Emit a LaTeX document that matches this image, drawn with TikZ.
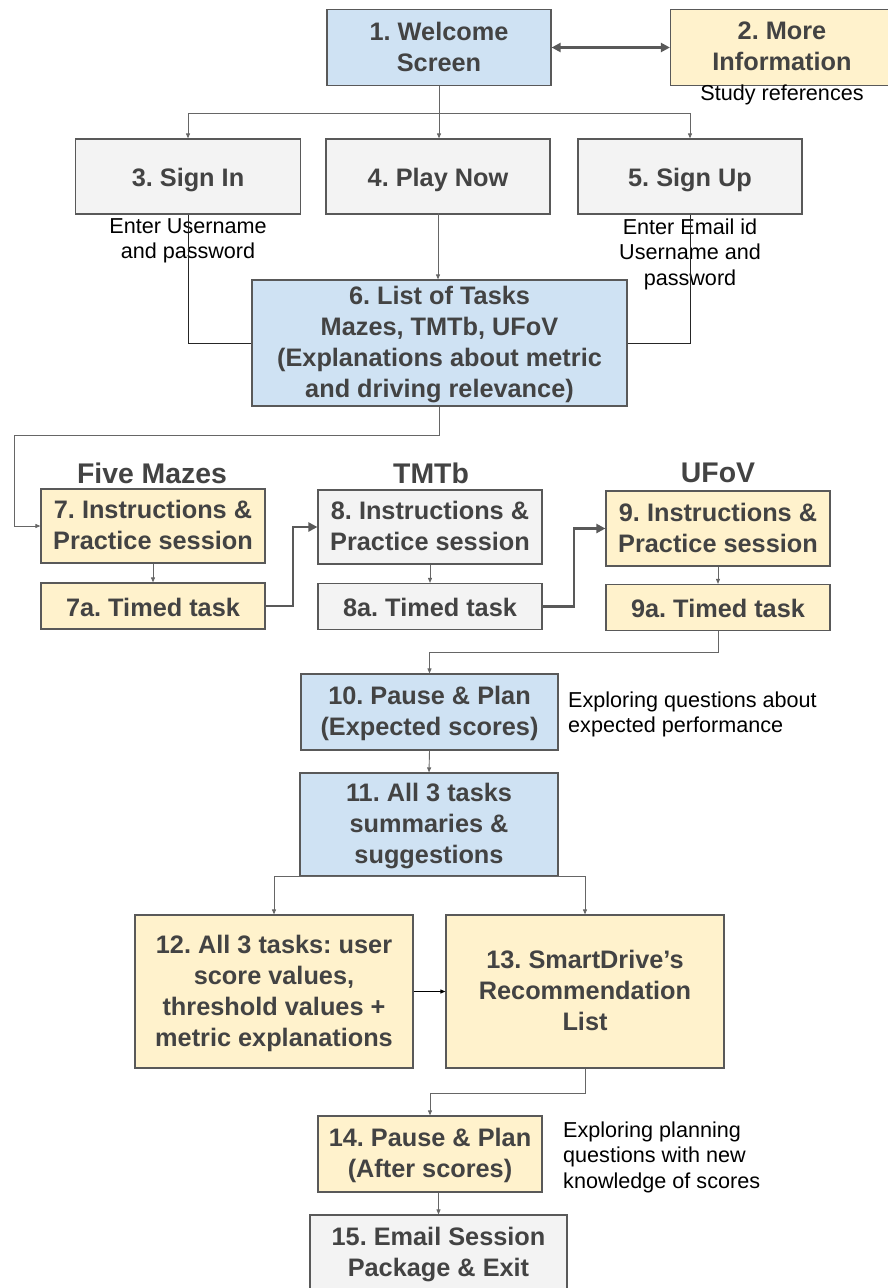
\documentclass[tikz,border=0pt]{standalone}
\usepackage{fontspec}
\setmainfont{Liberation Sans}
\frenchspacing
\usetikzlibrary{arrows.meta}
\definecolor{bluefill}{HTML}{CFE2F3}
\definecolor{yellowfill}{HTML}{FFF2CC}
\definecolor{grayfill}{HTML}{F3F3F3}
\definecolor{edgecol}{HTML}{595959}
\definecolor{textcol}{HTML}{434343}
\definecolor{linecol}{HTML}{666666}
\tikzset{
  box/.style={draw=edgecol, line width=1.2pt, inner sep=0pt, align=center,
    text=textcol, font=\fontsize{25.3}{31}\selectfont\bfseries, text depth=2pt},
  oneline/.style={text height=26pt, text depth=6pt},
  bluebox/.style={box, fill=bluefill},
  yellowbox/.style={box, fill=yellowfill},
  graybox/.style={box, fill=grayfill},
  note/.style={inner sep=0pt, text=black, font=\fontsize{21.6}{25.5}\selectfont},
  heading/.style={inner sep=0pt, text=textcol, font=\fontsize{28.4}{32}\selectfont\bfseries},
  conn/.style={draw=linecol, line width=0.9pt, -{Triangle[length=5pt,width=4pt]}},
  plain/.style={draw=black!85, line width=0.9pt},
  thickconn/.style={draw=edgecol, line width=2.2pt, -{Triangle[length=9pt,width=9pt]}},
}
\begin{document}
\begin{tikzpicture}[x=1pt, y=-1pt]
\useasboundingbox (0,0) rectangle (888,1288);

% top row
\node[bluebox, minimum width=224pt, minimum height=76pt] (n1) at (439,47.5) {1. Welcome\\Screen};
\node[yellowbox, minimum width=223pt, minimum height=76pt] (n2) at (782,47.5) {2. More\\Information};
\node[note] (s2) at (782,95) {Study references};

% sign-in row
\node[graybox, oneline, minimum width=225pt, minimum height=75pt] (n3) at (188,176.5) {3. Sign In};
\node[graybox, oneline, minimum width=224pt, minimum height=75pt] (n4) at (438,176.5) {4. Play Now};
\node[graybox, oneline, minimum width=224pt, minimum height=75pt] (n5) at (690,176.5) {5. Sign Up};
\node[note, align=center] (s3) at (188,241) {Enter Username\\and password};
\node[note, align=center] (s5) at (690,254) {Enter Email id\\Username and\\password};

% task list
\node[bluebox, minimum width=375pt, minimum height=126pt] (n6) at (439.5,343) {6. List of Tasks\\Mazes, TMTb, UFoV\\(Explanations about metric\\and driving relevance)};

% three tasks
\node[heading] (h7) at (152,473) {Five Mazes};
\node[heading] (h8) at (431,473) {TMTb};
\node[heading] (h9) at (718,473) {UFoV};
\node[yellowbox, minimum width=224pt, minimum height=74pt] (n7) at (153,526) {7. Instructions \&\\Practice session};
\node[graybox, minimum width=224pt, minimum height=74pt] (n8) at (430,527) {8. Instructions \&\\Practice session};
\node[yellowbox, minimum width=224pt, minimum height=75pt] (n9) at (718,528.5) {9. Instructions \&\\Practice session};
\node[yellowbox, oneline, minimum width=224pt, minimum height=46pt] (n7a) at (153,606) {7a. Timed task};
\node[graybox, oneline, minimum width=224pt, minimum height=46pt] (n8a) at (430,606.5) {8a. Timed task};
\node[yellowbox, oneline, minimum width=224pt, minimum height=46pt] (n9a) at (718,607.5) {9a. Timed task};

% review
\node[bluebox, minimum width=257pt, minimum height=76pt] (n10) at (429.5,712) {10. Pause \& Plan\\(Expected scores)};
\node[note, align=left, anchor=west] (s10) at (568,714.5) {Exploring questions about\\expected performance};
\node[bluebox, minimum width=258pt, minimum height=103pt] (n11) at (429,824.5) {11. All 3 tasks\\summaries \&\\suggestions};
\node[yellowbox, minimum width=278pt, minimum height=153pt] (n12) at (274,991.5) {12. All 3 tasks: user\\score values,\\threshold values +\\metric explanations};
\node[yellowbox, minimum width=278pt, minimum height=153pt] (n13) at (585,991.5) {13. SmartDrive’s\\Recommendation\\List};
\node[yellowbox, minimum width=224pt, minimum height=76pt] (n14) at (430,1154) {14. Pause \& Plan\\(After scores)};
\node[note, align=left, anchor=west] (s14) at (563,1157) {Exploring planning\\questions with new\\knowledge of scores};
\node[graybox, minimum width=257pt, minimum height=76pt] (n15) at (438.5,1253) {15. Email Session\\Package \& Exit};

% connectors
\draw[thickconn, {Triangle[length=9pt,width=9pt]}-{Triangle[length=9pt,width=9pt]}] (n1.east) -- (n2.west);
\coordinate (j1) at (439,113);
\draw[conn] (n1.south) -- (j1) -| (n3.north);
\draw[conn] (j1) -| (n5.north);
\draw[conn] (j1) -- (j1 |- n4.north);
\draw[conn] (n6.north -| n4.south) ++(0,-66) -- (n6.north -| n4.south);
\draw[plain] (n3.south) |- (n6.west);
\draw[plain] (n5.south) |- (n6.east);
\coordinate (c6) at (14,435);
\draw[conn] (n6.south) |- (c6) |- (n7.west);
\draw[conn] (n7.south) -- (n7a.north);
\draw[conn] (n8.south) -- (n8a.north);
\draw[conn] (n9.south) -- (n9a.north);
\draw[thickconn] (n7a.east) -- ++(27,0) |- (n8.west);
\draw[thickconn] (n8a.east) -- ++(31,0) |- (n9.west);
\draw[conn] (n9a.south) -- ++(0,21) -| (n10.north);
\draw[conn] (n10.south) -- (n11.north);
\draw[conn] (n11.south) -| (n12.north);
\draw[conn] (n11.south) -| (n13.north);
\draw[conn, draw=black] (n12.east) -- (n13.west);
\draw[conn] (n13.south) -- ++(0,25) -| (n14.north);
\draw[conn] (n15.north |- n14.south) -- (n15.north);
\end{tikzpicture}
\end{document}
